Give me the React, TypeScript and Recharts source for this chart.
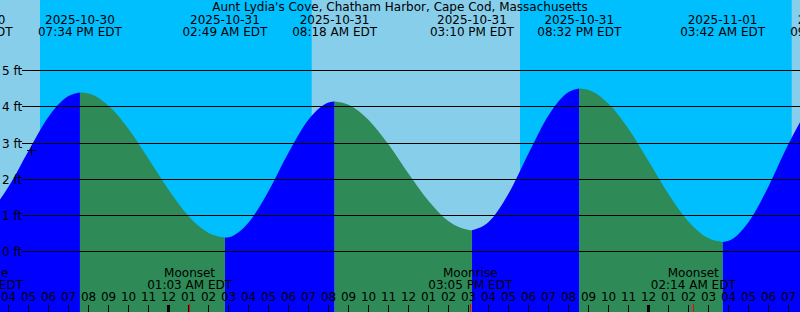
import { Area, ComposedChart, ReferenceArea, ReferenceDot, ReferenceLine, XAxis, YAxis } from 'recharts';

// all times are hours counted from 2025-10-30 00:00 EDT
const title = "Aunt Lydia's Cove, Chatham Harbor, Cape Cod, Massachusetts";

const hourTimes = [
  15, 16, 17, 18, 19, 20, 21, 22, 23, 24, 25, 26, 27, 28, 29, 30, 31, 32, 33, 34, 35,
  36, 37, 38, 39, 40, 41, 42, 43, 44, 45, 46, 47, 48, 49, 50, 51, 52, 53, 54, 55, 56,
];
const hourFeet = [
  1.07, 1.8, 2.79, 3.73, 4.3, 4.37, 4.03, 3.39, 2.56, 1.71, 0.98, 0.52, 0.4, 0.81, 1.68,
  2.74, 3.65, 4.12, 4.06, 3.64, 2.96, 2.15, 1.4, 0.84, 0.6, 0.82, 1.61, 2.72, 3.77, 4.41,
  4.47, 4.09, 3.39, 2.5, 1.59, 0.83, 0.37, 0.3, 0.82, 1.81, 2.98, 3.94,
];

const extremeTimes = [14.1, 19.567, 26.817, 32.3, 39.167, 44.533, 51.7, 57.2];
const extremeFeet = [0.84, 4.4, 0.39, 4.15, 0.59, 4.51, 0.27, 4.41];
const extremeDates = [
  '2025-10-30', '2025-10-30', '2025-10-31', '2025-10-31',
  '2025-10-31', '2025-10-31', '2025-11-01', '2025-11-01',
];
const extremeClock = [
  '02:06 PM EDT', '07:34 PM EDT', '02:49 AM EDT', '08:18 AM EDT',
  '03:10 PM EDT', '08:32 PM EDT', '03:42 AM EDT', '09:12 AM EDT',
];

const sunsets = [17.57, 41.57];
const sunrises = [31.155, 55.155];

const moonTimes = [14.62, 25.05, 39.083, 50.233];
const moonEvents = ['Moonrise', 'Moonset', 'Moonrise', 'Moonset'];
const moonClock = ['02:37 PM EDT', '01:03 AM EDT', '03:05 PM EDT', '02:14 AM EDT'];

const levels = [0, 1, 2, 3, 4, 5];
const hourTicks = [
  16, 17, 18, 19, 20, 21, 22, 23, 24, 25, 26, 27, 28, 29, 30, 31, 32, 33, 34, 35,
  36, 37, 38, 39, 40, 41, 42, 43, 44, 45, 46, 47, 48, 49, 50, 51, 52, 53, 54, 55,
];

const nowTime = 17.12;
const nowFeet = 2.8;

const W = 800;
const H = 312;
const FONT = 'DejaVu Sans';

const points = [
  ...hourTimes.map((t, i) => ({ t, ft: hourFeet[i], ext: false })),
  ...extremeTimes.map((t, i) => ({ t, ft: extremeFeet[i], ext: true })),
].sort((a, b) => a.t - b.t);

const rows = points.map((p) => {
  if (p.ext) return { t: p.t, rise: p.ft, fall: p.ft };
  let prev = 0;
  extremeTimes.forEach((et, i) => {
    if (et < p.t) prev = i;
  });
  const rising = extremeFeet[prev] < extremeFeet[prev + 1];
  return { t: p.t, rise: rising ? p.ft : null, fall: rising ? null : p.ft };
});

const twoDigit = (t: number) => String(t % 12 === 0 ? 12 : t % 12).padStart(2, '0');
const crisp = (v: number) => Math.floor(v) + 0.5;

const txt = { fontFamily: FONT, fontSize: 12, fill: '#000' };

export default function App() {
  return (
    <div style={{ position: 'absolute', left: 0, top: 0, width: W, height: H, background: '#87CEEB' }}>
      <ComposedChart width={W} height={H} data={rows} margin={{ top: 0, right: 0, bottom: 0, left: 0 }}>
        <XAxis dataKey="t" type="number" domain={[15.57, 55.57]} allowDataOverflow hide />
        <YAxis type="number" domain={[-1.6657, 6.953]} allowDataOverflow hide />
        {sunsets.map((s, i) => (
          <ReferenceArea
            key={`n${i}`}
            x1={s}
            x2={sunrises[i]}
            fill="#00BFFF"
            fillOpacity={1}
            stroke="none"
            ifOverflow="hidden"
            zIndex={50}
          />
        ))}
        <Area
          dataKey="rise"
          type="monotone"
          fill="#0000FF"
          fillOpacity={1}
          stroke="none"
          baseValue="dataMin"
          dot={false}
          activeDot={false}
          isAnimationActive={false}
        />
        <Area
          dataKey="fall"
          type="monotone"
          fill="#2E8B57"
          fillOpacity={1}
          stroke="none"
          baseValue="dataMin"
          dot={false}
          activeDot={false}
          isAnimationActive={false}
        />
        {levels.map((lv) => (
          <ReferenceLine
            key={`l${lv}`}
            y={lv}
            zIndex={600}
            shape={(p: any) => {
              const y = crisp(p.y1);
              return (
                <g>
                  <line x1={22} x2={p.x2} y1={y} y2={y} stroke="#000" strokeWidth={1} />
                  <text x={2} y={y + 4} {...txt}>
                    {`${lv} ft`}
                  </text>
                </g>
              );
            }}
          />
        ))}
        {hourTicks.map((h) => (
          <ReferenceLine
            key={`h${h}`}
            x={h}
            zIndex={650}
            shape={(p: any) => {
              const px = crisp(p.x1);
              return (
                <g>
                  <text x={p.x1} y={H - 11} textAnchor="middle" {...txt}>
                    {twoDigit(h)}
                  </text>
                  <line x1={px} x2={px} y1={H - 7} y2={H} stroke="#000" strokeWidth={h % 24 === 0 ? 3 : 1} />
                </g>
              );
            }}
          />
        ))}
        {extremeTimes.map((t, i) => (
          <ReferenceLine
            key={`e${i}`}
            x={t}
            ifOverflow="visible"
            zIndex={700}
            shape={(p: any) => (
              <g>
                <text x={p.x1} y={24} textAnchor="middle" {...txt}>
                  {extremeDates[i]}
                </text>
                <text x={p.x1} y={36} textAnchor="middle" {...txt}>
                  {extremeClock[i]}
                </text>
              </g>
            )}
          />
        ))}
        {moonTimes.map((t, i) => (
          <ReferenceLine
            key={`m${i}`}
            x={t}
            ifOverflow="visible"
            zIndex={700}
            shape={(p: any) => {
              const px = crisp(p.x1);
              return (
                <g>
                  <text x={p.x1} y={H - 35} textAnchor="middle" {...txt}>
                    {moonEvents[i]}
                  </text>
                  <text x={p.x1} y={H - 23} textAnchor="middle" {...txt}>
                    {moonClock[i]}
                  </text>
                  <line x1={px} x2={px} y1={H - 8} y2={H} stroke="#FF0000" strokeWidth={1} />
                </g>
              );
            }}
          />
        ))}
        <ReferenceDot
          x={nowTime}
          y={nowFeet}
          ifOverflow="visible"
          zIndex={700}
          shape={(p: any) => {
            const cx = crisp(p.cx);
            const cy = crisp(p.cy);
            return (
              <g>
                <line x1={cx - 4.5} x2={cx + 4.5} y1={cy} y2={cy} stroke="#000" strokeWidth={1} />
                <line x1={cx} x2={cx} y1={cy - 4.5} y2={cy + 4.5} stroke="#000" strokeWidth={1} />
              </g>
            );
          }}
        />
      </ComposedChart>
      <div
        style={{
          position: 'absolute',
          left: 0,
          top: 0,
          width: W,
          textAlign: 'center',
          fontFamily: FONT,
          fontSize: 12,
          lineHeight: '14px',
          color: '#000',
          pointerEvents: 'none',
        }}
      >
        {title}
      </div>
    </div>
  );
}
